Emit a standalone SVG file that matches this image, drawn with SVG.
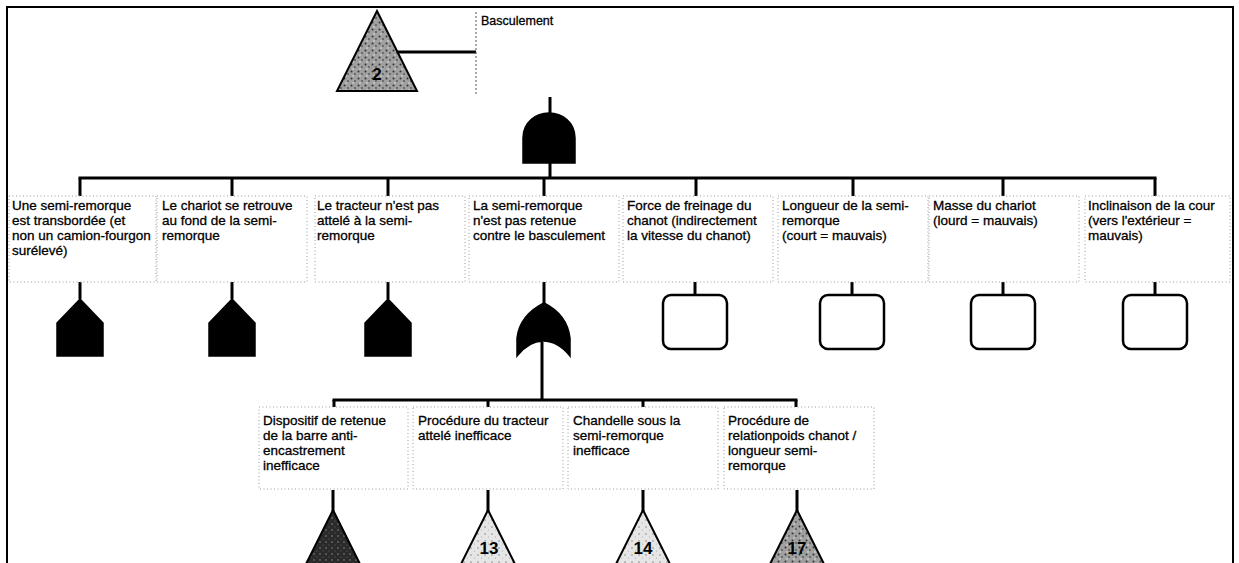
<svg xmlns="http://www.w3.org/2000/svg" width="1239" height="563" viewBox="0 0 1239 563">
<defs>
<style>
.t{font-family:"Liberation Sans",Arial,sans-serif;font-size:13.5px;fill:#000;stroke:#000;stroke-width:0.3}
.lbl{font-family:"Liberation Sans",Arial,sans-serif;font-size:12.5px;fill:#000;stroke:#000;stroke-width:0.3}
.num{font-family:"Liberation Sans",Arial,sans-serif;font-size:17px;font-weight:bold;fill:#000;text-anchor:middle}
.box{fill:none;stroke:#9a9a9a;stroke-width:1;stroke-dasharray:1 2.5}
.w{stroke:#000;stroke-width:3;fill:none}
.gate{fill:#000;stroke:#000;stroke-width:1.5}
.cond{fill:#fff;stroke:#000;stroke-width:2.5}
.tri{stroke:#000;stroke-width:2}
</style>
<pattern id="pMid" width="7" height="7" patternUnits="userSpaceOnUse">
<rect width="7" height="7" fill="#a0a0a0"/>
<circle cx="1.5" cy="1.5" r="1" fill="#333"/>
<circle cx="5" cy="4" r="0.9" fill="#555"/>
<circle cx="3" cy="6" r="0.7" fill="#eee"/>
</pattern>
<pattern id="pDark" width="6" height="6" patternUnits="userSpaceOnUse">
<rect width="6" height="6" fill="#2a2a2a"/>
<circle cx="2" cy="2" r="0.8" fill="#888"/>
<circle cx="5" cy="5" r="0.6" fill="#666"/>
</pattern>
<pattern id="pLight" width="7" height="7" patternUnits="userSpaceOnUse">
<rect width="7" height="7" fill="#e6e6e6"/>
<circle cx="2" cy="2" r="0.8" fill="#888"/>
<circle cx="5.5" cy="5" r="0.6" fill="#aaa"/>
</pattern>
</defs>
<rect width="1239" height="563" fill="#fff"/>
<rect x="7" y="7" width="1226" height="580" fill="none" stroke="#000" stroke-width="2"/>

<g id="connectors">
<line class="w" x1="397" y1="52" x2="476" y2="52" stroke-width="3.5"/>
<line class="w" x1="550" y1="97" x2="550" y2="114"/>
<line class="w" x1="550" y1="163" x2="550" y2="178"/>
<line class="w" x1="78.5" y1="178" x2="1156.5" y2="178"/>
<line class="w" x1="80" y1="178" x2="80" y2="196"/>
<line class="w" x1="232" y1="178" x2="232" y2="196"/>
<line class="w" x1="388" y1="178" x2="388" y2="196"/>
<line class="w" x1="544" y1="178" x2="544" y2="196"/>
<line class="w" x1="696" y1="178" x2="696" y2="196"/>
<line class="w" x1="853" y1="178" x2="853" y2="196"/>
<line class="w" x1="1003" y1="178" x2="1003" y2="196"/>
<line class="w" x1="1155" y1="178" x2="1155" y2="196"/>
<line class="w" x1="80" y1="282" x2="80" y2="299"/>
<line class="w" x1="232" y1="282" x2="232" y2="299"/>
<line class="w" x1="388" y1="282" x2="388" y2="299"/>
<line class="w" x1="544" y1="282" x2="544" y2="304"/>
<line class="w" x1="695" y1="282" x2="695" y2="295"/>
<line class="w" x1="852" y1="282" x2="852" y2="295"/>
<line class="w" x1="1003" y1="282" x2="1003" y2="295"/>
<line class="w" x1="1155" y1="282" x2="1155" y2="295"/>
<line class="w" x1="542" y1="342" x2="542" y2="400"/>
<line class="w" x1="332.5" y1="400" x2="797.5" y2="400"/>
<line class="w" x1="334" y1="400" x2="334" y2="407"/>
<line class="w" x1="488" y1="400" x2="488" y2="407"/>
<line class="w" x1="643" y1="400" x2="643" y2="407"/>
<line class="w" x1="796" y1="400" x2="796" y2="407"/>
<line class="w" x1="333" y1="490" x2="333" y2="511"/>
<line class="w" x1="488" y1="490" x2="488" y2="511"/>
<line class="w" x1="643" y1="490" x2="643" y2="511"/>
<line class="w" x1="797" y1="490" x2="797" y2="511"/>
</g>

<g id="top-event">
<polygon class="tri" points="377,11 417,91 337,91" fill="url(#pMid)"/>
<text class="num" x="377" y="80" fill="#222">2</text>
<line x1="476" y1="12" x2="476" y2="96" stroke="#555" stroke-width="1" stroke-dasharray="2 2"/>
<text class="lbl" x="481" y="25">Basculement</text>
</g>

<g id="gate-and">
<path class="gate" d="M523,163 L523,138 C523,122 536,113 549,113 C562,113 575,122 575,138 L575,163 Z"/>
</g>

<g id="n1">
<rect class="box" x="9" y="196" width="147" height="86"/>
<text class="t" x="12" y="210">Une semi-remorque</text>
<text class="t" x="12" y="225">est transbordée (et</text>
<text class="t" x="12" y="240">non un camion-fourgon</text>
<text class="t" x="12" y="255">surélevé)</text>
<path class="gate" d="M80,299 L103,323 L103,356 L57,356 L57,323 Z"/>
</g>

<g id="n2">
<rect class="box" x="157" y="196" width="150" height="86"/>
<text class="t" x="162" y="210">Le chariot se retrouve</text>
<text class="t" x="162" y="225">au fond de la semi-</text>
<text class="t" x="162" y="240">remorque</text>
<path class="gate" d="M232,299 L255,323 L255,356 L209,356 L209,323 Z"/>
</g>

<g id="n3">
<rect class="box" x="315" y="196" width="150" height="86"/>
<text class="t" x="317" y="210">Le tracteur n'est pas</text>
<text class="t" x="317" y="225">attelé à la semi-</text>
<text class="t" x="317" y="240">remorque</text>
<path class="gate" d="M388,299 L411,323 L411,356 L365,356 L365,323 Z"/>
</g>

<g id="n4">
<rect class="box" x="469" y="196" width="150" height="86"/>
<text class="t" x="473" y="210">La semi-remorque</text>
<text class="t" x="473" y="225">n'est pas retenue</text>
<text class="t" x="473" y="240">contre le basculement</text>
<path class="gate" d="M544,303 C558,310 568,322 570,338 L570,356 C562,346 552,341 543,341 C534,341 525,346 517,356 L517,338 C519,322 530,310 544,303 Z"/>
</g>

<g id="n5">
<rect class="box" x="623" y="196" width="150" height="86"/>
<text class="t" x="627" y="210">Force de freinage du</text>
<text class="t" x="627" y="225">chanot (indirectement</text>
<text class="t" x="627" y="240">la vitesse du chanot)</text>
<rect class="cond" x="663" y="295" width="64" height="54" rx="8"/>
</g>

<g id="n6">
<rect class="box" x="778" y="196" width="150" height="86"/>
<text class="t" x="782" y="210">Longueur de la semi-</text>
<text class="t" x="782" y="225">remorque</text>
<text class="t" x="782" y="240">(court = mauvais)</text>
<rect class="cond" x="820" y="295" width="64" height="54" rx="8"/>
</g>

<g id="n7">
<rect class="box" x="929" y="196" width="150" height="86"/>
<text class="t" x="933" y="210">Masse du chariot</text>
<text class="t" x="933" y="225">(lourd = mauvais)</text>
<rect class="cond" x="971" y="295" width="64" height="54" rx="8"/>
</g>

<g id="n8">
<rect class="box" x="1085" y="196" width="145" height="86"/>
<text class="t" x="1088" y="210">Inclinaison de la cour</text>
<text class="t" x="1088" y="225">(vers l'extérieur =</text>
<text class="t" x="1088" y="240">mauvais)</text>
<rect class="cond" x="1123" y="295" width="64" height="54" rx="8"/>
</g>

<g id="n9">
<rect class="box" x="259" y="407" width="149" height="82"/>
<text class="t" x="263" y="425">Dispositif de retenue</text>
<text class="t" x="263" y="440">de la barre anti-</text>
<text class="t" x="263" y="455">encastrement</text>
<text class="t" x="263" y="470">inefficace</text>
<polygon class="tri" points="333,510 373,590 293,590" fill="url(#pDark)"/>
</g>

<g id="n10">
<rect class="box" x="413" y="407" width="150" height="82"/>
<text class="t" x="418" y="425">Procédure du tracteur</text>
<text class="t" x="418" y="440">attelé inefficace</text>
<polygon class="tri" points="488,510 528,590 448,590" fill="url(#pLight)"/>
<text class="num" x="489" y="554">13</text>
</g>

<g id="n11">
<rect class="box" x="568" y="407" width="150" height="82"/>
<text class="t" x="573" y="425">Chandelle sous la</text>
<text class="t" x="573" y="440">semi-remorque</text>
<text class="t" x="573" y="455">inefficace</text>
<polygon class="tri" points="643,510 683,590 603,590" fill="url(#pLight)"/>
<text class="num" x="643" y="554">14</text>
</g>

<g id="n12">
<rect class="box" x="724" y="407" width="150" height="82"/>
<text class="t" x="728" y="425">Procédure de</text>
<text class="t" x="728" y="440">relationpoids chanot /</text>
<text class="t" x="728" y="455">longueur semi-</text>
<text class="t" x="728" y="470">remorque</text>
<polygon class="tri" points="797,510 837,590 757,590" fill="url(#pMid)"/>
<text class="num" x="797" y="554">17</text>
</g>
</svg>
